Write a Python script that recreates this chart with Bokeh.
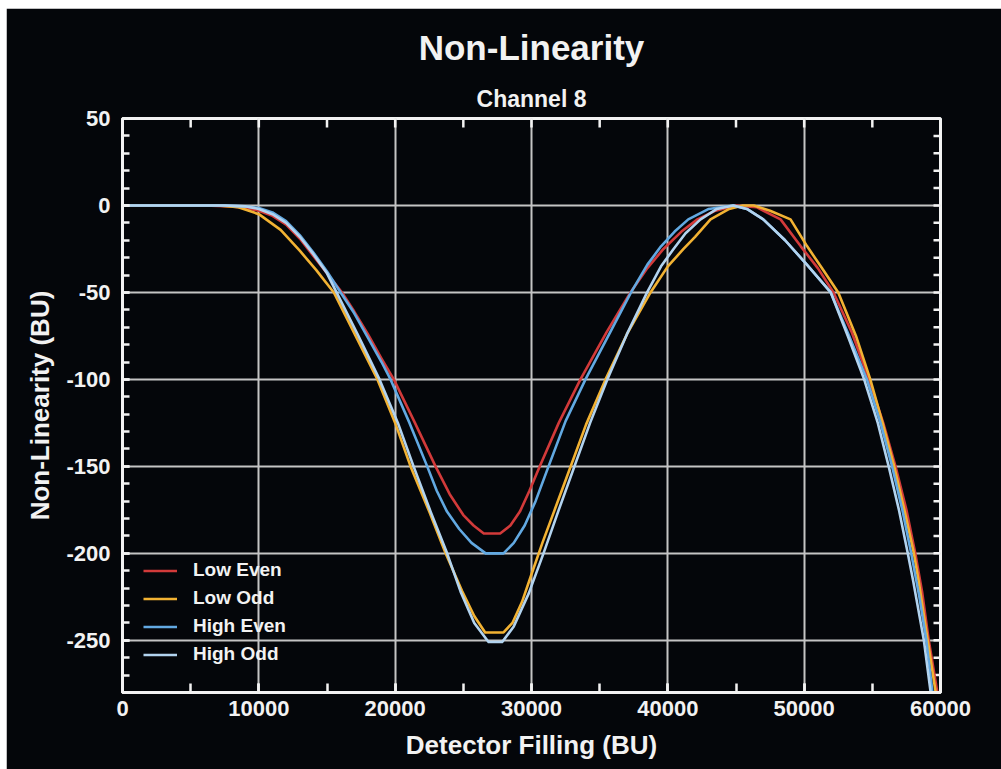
import math
from bokeh.plotting import figure
from bokeh.models import (Range1d, SingleIntervalTicker, Title, Legend, LegendItem,
                          CustomJSTickFormatter)
from bokeh.embed import file_html
from bokeh.resources import INLINE

# ---------------- data ----------------
title_text = "Non-Linearity"
subtitle_text = "Channel 8"
x_label = "Detector Filling (BU)"
y_label = "Non-Linearity (BU)"
series_names = ["Low Even", "Low Odd", "High Even", "High Odd"]

low_even_x = [0, 6000, 8000, 9000, 10000, 11000, 12000, 13000, 14000, 15000, 16100, 17000, 18000, 19000,
              19900, 21450, 22960, 24000, 25000, 25750, 26500, 27700, 28450, 29150, 29850, 30600, 32000,
              33590, 35500, 37260, 38500, 39680, 41000, 42170, 43500, 45000, 46500, 48270, 49750, 51000,
              52150, 53500, 54750, 55800, 56700, 57500, 58150, 58650, 59140, 59770]
low_even_y = [0, 0, -0.5, -1.5, -3, -6, -11, -19, -29, -39, -50, -61, -74, -88,
              -100, -125, -150, -166, -178, -184, -188.6, -188.6, -184, -176, -164, -150, -125,
              -100, -73, -50, -36, -25, -15, -8, -3, 0, -1, -8, -23.5, -36,
              -50, -73, -100, -125, -150, -175, -200, -222, -250, -280]

low_odd_x = [0, 7000, 8500, 10000, 11600, 13000, 14200, 15500, 17100, 18700, 20000, 21130, 22500, 23700,
             24900, 25800, 26600, 27950, 28600, 29300, 30000, 30800, 31650, 32500, 34000, 35430, 37000,
             38730, 40000, 41150, 42000, 43130, 44500, 45500, 46300, 47500, 49000, 50220, 51300, 52500,
             53800, 54850, 55750, 56600, 57350, 58050, 58400, 59060, 59650]
low_odd_y = [0, 0, -1, -5, -14, -26, -37, -50, -75, -100, -125, -150, -176, -200,
             -221.5, -236, -245.5, -245.5, -240, -228, -212, -194, -176, -158, -126, -100, -74,
             -50, -35, -25, -18, -8, -2, 0, 0, -3, -8, -23.5, -36, -50,
             -75, -100, -125, -150, -175, -200, -216, -250, -280]

high_even_x = [0, 7500, 9000, 10000, 11000, 12000, 13000, 14000, 15000, 16000, 17000, 18000, 19000, 19660,
               21050, 22350, 23050, 23800, 24700, 25600, 26640, 27950, 28700, 29500, 30300, 31250, 32500,
               33960, 35700, 37300, 38500, 39500, 40500, 41500, 43000, 44800, 45800, 47000, 48600, 50200,
               51950, 53300, 54600, 55600, 56450, 57200, 57850, 58450, 58960, 59410]
high_even_y = [0, 0, -0.5, -1.5, -4, -9, -17, -27, -38, -50, -62, -76, -90, -100,
               -125, -150, -164, -176, -186, -194, -200, -200, -194, -184, -170, -150, -124,
               -100, -74, -50, -34, -23.5, -15, -8, -2, 0, -2, -8, -20, -34,
               -50, -75, -100, -125, -150, -175, -200, -225, -250, -280]

high_odd_x = [0, 7500, 9000, 10000, 11000, 12000, 13000, 14000, 15000, 15700, 17300, 18850, 20200, 21350,
              22600, 23810, 24800, 25800, 26850, 27850, 28700, 29800, 30880, 32000, 33150, 34300, 35560,
              37000, 38480, 39500, 40420, 41300, 42400, 43600, 44800, 45800, 47000, 48600, 50200, 51950,
              53200, 54400, 55400, 56200, 56950, 57600, 58000, 58780, 59280]
high_odd_y = [0, 0, -0.5, -2, -5, -10, -18, -28, -39, -50, -75, -100, -125, -150,
              -176, -200, -222, -240, -251, -251, -242, -223, -200, -175, -150, -125, -100,
              -74, -50, -35, -25, -16, -8, -2, 0, -2, -8, -20, -34, -50,
              -75, -100, -125, -150, -175, -200, -216, -250, -280]

x_min, x_max = 0, 60000
y_min, y_max = -280, 50
x_tick_interval = 10000
y_tick_interval = 50
x_minor_per_major = 2
y_minor_per_major = 5

# ---------------- styling ----------------
FONT = "Liberation Sans"
BG = "#04060a"
WHITE = "#f2f2f2"
colors = ["#d23a3a", "#f2b233", "#62a9e2", "#b2d3ef"]

p = figure(width=995, height=761, output_backend="svg", toolbar_location=None,
           x_range=Range1d(x_min, x_max), y_range=Range1d(y_min, y_max),
           min_border_left=116, min_border_right=61, min_border_top=110, min_border_bottom=77,
           background_fill_color=BG, border_fill_color=BG,
           title=title_text, x_axis_label=x_label, y_axis_label=y_label)
p.margin = (8, 0, 0, 6)
p.outline_line_color = WHITE
p.outline_line_width = 3

p.title.align = "center"
p.title.text_color = WHITE
p.title.text_font = FONT
p.title.text_font_style = "bold"
p.title.text_font_size = "35px"
p.title.standoff = 19

sub_title = Title(text=subtitle_text, align="center", text_color=WHITE, text_font=FONT,
                  text_font_style="bold", text_font_size="23px", standoff=14)
p.add_layout(sub_title, "above")

xt = SingleIntervalTicker(interval=x_tick_interval, num_minor_ticks=x_minor_per_major)
yt = SingleIntervalTicker(interval=y_tick_interval, num_minor_ticks=y_minor_per_major)
p.xaxis.ticker = xt
p.yaxis.ticker = yt
p.xgrid.ticker = xt
p.ygrid.ticker = yt
for g in (p.xgrid, p.ygrid):
    g.grid_line_color = "#c4c4c4"
    g.grid_line_width = 2

fmt = CustomJSTickFormatter(code="return tick.toString();")

def style_axis(ax, tick_in):
    ax.formatter = fmt
    ax.axis_line_color = WHITE
    ax.axis_line_width = 3
    ax.major_tick_in = tick_in
    ax.major_tick_out = 0
    ax.minor_tick_in = tick_in
    ax.minor_tick_out = 0
    ax.major_tick_line_color = WHITE
    ax.minor_tick_line_color = WHITE
    ax.major_tick_line_width = 2.5
    ax.minor_tick_line_width = 2.5
    ax.major_label_text_color = WHITE
    ax.major_label_text_font = FONT
    ax.major_label_text_font_style = "bold"
    ax.major_label_text_font_size = "22px"
    ax.axis_label_text_color = WHITE
    ax.axis_label_text_font = FONT
    ax.axis_label_text_font_style = "bold"
    ax.axis_label_text_font_size = "26px"

style_axis(p.xaxis[0], 9)
style_axis(p.yaxis[0], 7)
p.xaxis[0].major_label_standoff = 8
p.xaxis[0].axis_label_standoff = 11
p.yaxis[0].major_label_standoff = 12
p.yaxis[0].axis_label_standoff = 8

# inward ticks on the top and right frame edges (minor-tick spacing)
top_ticks = list(range(x_min, x_max + 1, x_tick_interval // x_minor_per_major))
right_ticks = list(range(y_min, y_max + 1, y_tick_interval // y_minor_per_major))
p.ray(x=top_ticks, y=[y_max] * len(top_ticks), length=9, length_units="screen",
      angle=-math.pi / 2, line_color=WHITE, line_width=2.5)
p.ray(x=[x_max] * len(right_ticks), y=right_ticks, length=7, length_units="screen",
      angle=math.pi, line_color=WHITE, line_width=2.5)

xs = [low_even_x, low_odd_x, high_even_x, high_odd_x]
ys = [low_even_y, low_odd_y, high_even_y, high_odd_y]
items = []
for name, x, y, c in zip(series_names, xs, ys, colors):
    r = p.line(x, y, line_color=c, line_width=2.6, line_join="round")
    items.append(LegendItem(label=name, renderers=[r]))

legend = Legend(items=items, location=(21, 27), padding=0, margin=0, spacing=6,
                glyph_width=34, glyph_height=21, label_height=21, label_standoff=16,
                label_text_color=WHITE, label_text_font=FONT, label_text_font_style="bold",
                label_text_font_size="19px", background_fill_alpha=0, border_line_alpha=0)
p.add_layout(legend)

open("out.html", "w").write(file_html(p, INLINE))
